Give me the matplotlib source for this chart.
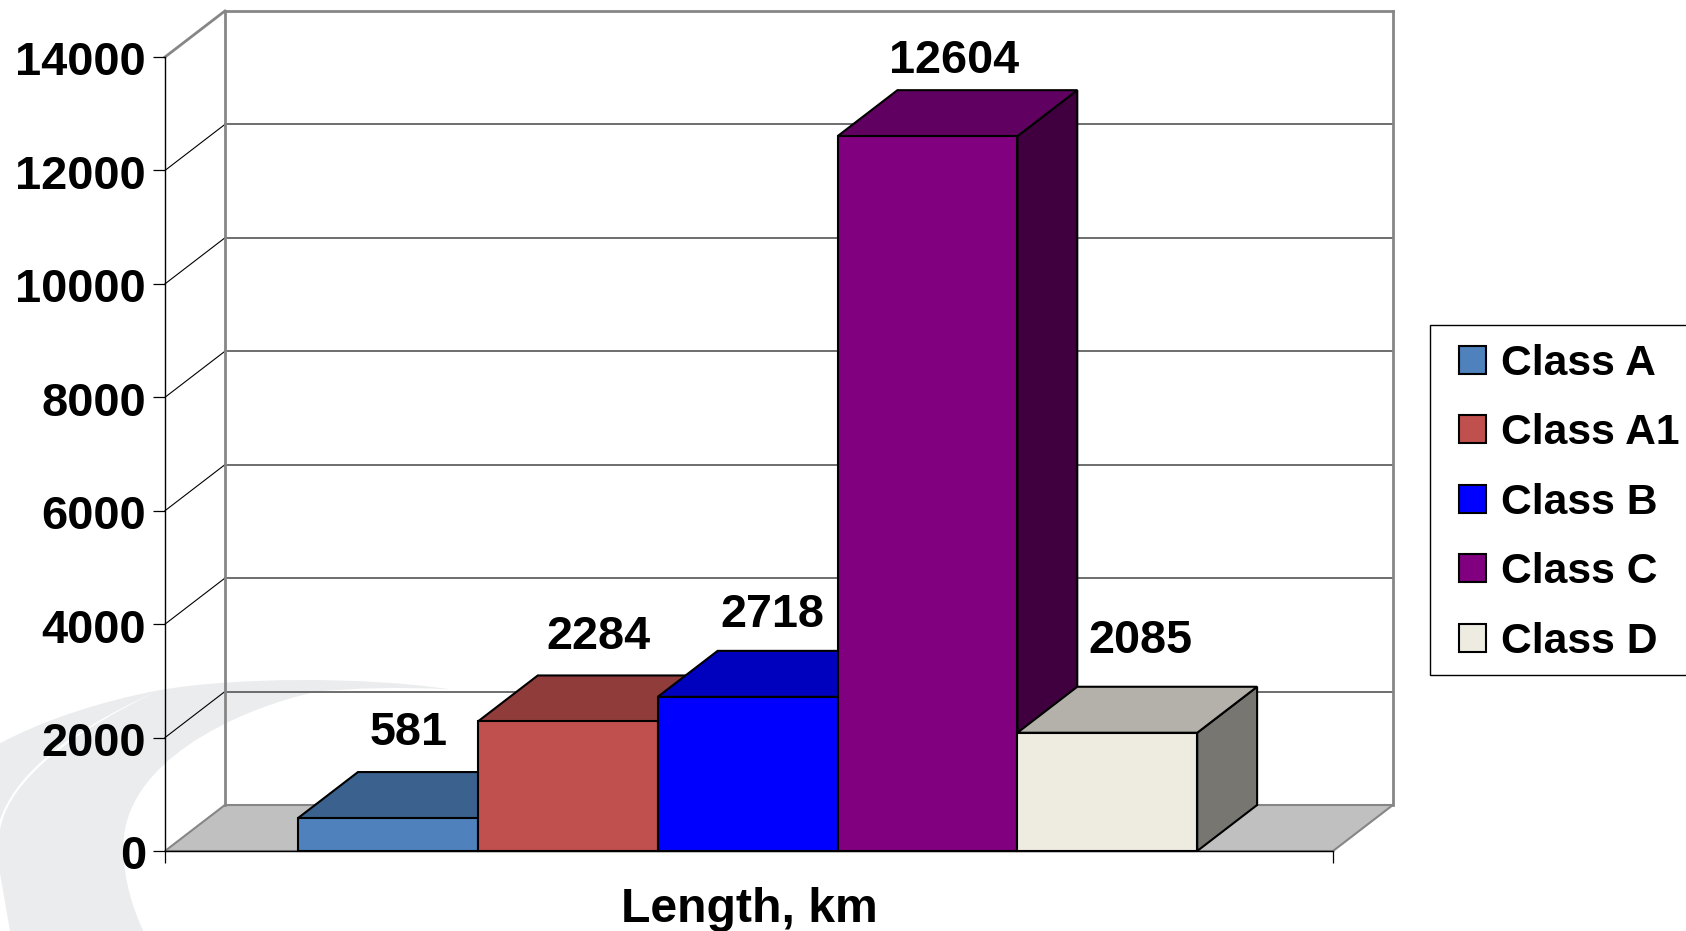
import numpy as np
import matplotlib
matplotlib.use('Agg')
import matplotlib.pyplot as plt
from matplotlib.patches import Polygon, PathPatch, Patch, Rectangle
from matplotlib.path import Path
from matplotlib.transforms import ScaledTranslation

plt.rcParams['font.family'] = ['Liberation Sans', 'DejaVu Sans']
plt.rcParams['font.weight'] = 'bold'

# data
classes = ['Class A', 'Class A1', 'Class B', 'Class C', 'Class D']
lengths = [581, 2284, 2718, 12604, 2085]
colors = ['#4F81BD', '#C0504D', '#0000FF', '#800080', '#EEECE1']
y_ticks = [0, 2000, 4000, 6000, 8000, 10000, 12000, 14000]
# label offset from top of front face, in points
label_dx = [15, 22, 18, 19, 24]
label_dy = [61, 61, 59, 54, 66]

W, H = 1686, 931
fig = plt.figure(figsize=(W / 100, H / 100), dpi=100, facecolor='white')

def fig_xy(pts):
    # pixel coordinates of the zoomed crop -> figure fraction
    pts = np.array(pts, dtype=float)
    return np.c_[pts[:, 0] / 3 / W, 1 - (620 + pts[:, 1] / 3) / H]

# background swoosh
C = Path.CURVE4
swoosh = [(0, 370), (130, 300), (300, 245), (470, 212), (700, 170), (1100, 170), (1350, 208),
          (1200, 200), (1050, 205), (950, 215), (700, 270), (370, 430), (370, 680),
          (370, 780), (400, 870), (430, 933), (30, 933), (0, 760), (0, 370)]
codes = [Path.MOVETO, C, C, C, C, C, C, C, C, C, C, C, C, C, C, C, Path.LINETO, Path.LINETO, Path.LINETO]
fig.add_artist(PathPatch(Path(fig_xy(swoosh), codes), transform=fig.transFigure,
                         fc='#EBECED', ec='none', zorder=-2))
sliver = [(0, 630), (20, 510), (150, 370), (470, 214), (170, 350), (40, 480), (0, 600)]
codes = [Path.MOVETO, C, C, C, C, C, C]
fig.add_artist(PathPatch(Path(fig_xy(sliver), codes), transform=fig.transFigure,
                         fc='white', ec='none', zorder=-1))

ax = fig.add_axes([165 / W, 1 - 851 / H, (1333 - 165) / W, (851 - 57) / H])
ax.patch.set_visible(False)

bar_w = 1.0
x0, x1 = -1.24, 5.255
ax.set_xlim(x0, x1)
ax.set_ylim(0, 14000)
# depth of the 3d box in data units
dx = 0.333
dy = 811

# walls
wall = '#868686'
ax.add_patch(Polygon([(x0, 0), (x1, 0), (x1 + dx, dy), (x0 + dx, dy)], fc='#C0C0C0', ec=wall, lw=1.5,
                     clip_on=False, zorder=1))
for v in y_ticks:
    top = v == y_ticks[-1]
    if v > 0:
        ax.plot([x0 + dx, x1 + dx], [v + dy, v + dy], color=wall if top else '#555555', lw=2 if top else 1.2,
                clip_on=False, zorder=1)
        ax.plot([x0, x0 + dx], [v, v + dy], color=wall if top else 'black', lw=2 if top else 0.8,
                clip_on=False, zorder=1)
for xv in [x0 + dx, x1 + dx]:
    ax.plot([xv, xv], [dy, 14000 + dy], color=wall, lw=2, clip_on=False, zorder=1)

# bars, left to right so each one covers the side of the last
for i, (v, c) in enumerate(zip(lengths, colors)):
    l, r = i - bar_w / 2, i + bar_w / 2
    rgb = np.array(matplotlib.colors.to_rgb(c))
    z = 3 + i
    ax.add_patch(Polygon([(r, 0), (r + dx, dy), (r + dx, v + dy), (r, v)], fc=rgb * 0.5, ec='black', lw=1.5,
                         clip_on=False, zorder=z))
    ax.add_patch(Polygon([(l, v), (r, v), (r + dx, v + dy), (l + dx, v + dy)], fc=rgb * 0.75, ec='black', lw=1.5,
                         clip_on=False, zorder=z))
    ax.add_patch(Polygon([(l, 0), (r, 0), (r, v), (l, v)], fc=rgb, ec='black', lw=1.5,
                         clip_on=False, zorder=z))
    ax.annotate(str(v), (i, v), xytext=(label_dx[i], label_dy[i]), textcoords='offset points',
                ha='center', va='center', fontsize=33.7, fontweight='bold', color='black',
                annotation_clip=False, zorder=20)

for s in ['top', 'right']:
    ax.spines[s].set_visible(False)
for s in ['left', 'bottom']:
    ax.spines[s].set_linewidth(1.0)
    ax.spines[s].set_zorder(15)
ax.set_yticks(y_ticks)
ax.set_xticks([x0, x1])
ax.set_xticklabels([])
ax.tick_params(axis='both', length=8.6, width=0.9, pad=5)
ax.tick_params(axis='y', labelsize=33.8)
ax.set_xlabel('Length, km', fontsize=34.7, fontweight='bold', labelpad=12.5)
for lab in ax.get_yticklabels():
    lab.set_transform(lab.get_transform() + ScaledTranslation(0, -1.0 / 72, fig.dpi_scale_trans))

# legend box runs off the right edge of the picture
fig.add_artist(Rectangle((1430 / W, 1 - 675 / H), (W + 5 - 1430) / W, 350 / H, transform=fig.transFigure,
                         fc='white', ec='black', lw=1.0, zorder=2))
handles = [Patch(fc=c, ec='black', lw=1.5) for c in colors]
leg = fig.legend(handles, classes, loc='upper left', bbox_to_anchor=(1459 / W, 1 - 344 / H),
                 borderaxespad=0, frameon=False, handlelength=0.635, handleheight=0.635, handletextpad=0.36,
                 borderpad=0, labelspacing=0.69, prop={'size': 30.7, 'weight': 'bold'})

fig.savefig('out.png', dpi=100)
